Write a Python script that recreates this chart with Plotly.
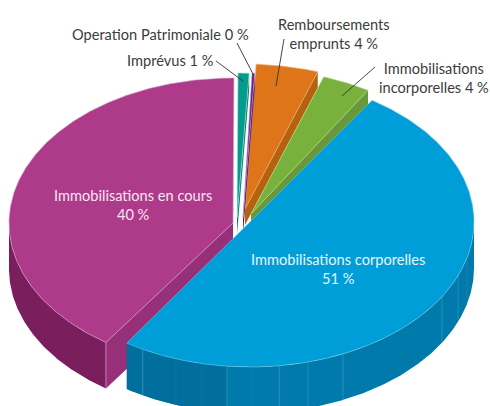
import math
import plotly.graph_objects as go

names = ["Immobilisations corporelles", "Immobilisations en cours", "Imprévus",
         "Operation Patrimoniale", "Remboursements emprunts", "Immobilisations incorporelles"]
values = [50.1, 40.8, 0.8, 0.2, 4.2, 3.9]
shown = [51, 40, 1, 0, 4, 4]
top_colors = ["#009ED8", "#AE3A8A", "#009C8C", "#6A1E85", "#DE7619", "#78B13B"]
edge_colors = ["#66C4E8", "#D9A0C8", "#B5E0DA", "#B89AC8", "#F0B580", "#B5D68F"]
radial_colors = ["#0078A8", "#963078", "#00786C", "#4E1566", "#B5620F", "#67993A"]
outer_colors = ["#0079AB", "#7B1E5E", "#00786C", "#4E1566", "#B5620F", "#67993A"]
centers = [(250, 222), (233, 223), (237, 218), (243, 218), (245, 209), (251, 214)]
start_gap = [0, 1.2, 0, -0.8, -1.0, 0]
end_gap = [0, 0, 0, 0.85, 0, 1.5]
draw_order = [4, 2, 3, 5, 1, 0]
seam_angles = [-118.6, -109.3, -102.4, -95.9, -89.2, -82.5, -75, -65.5, -31, -21.7, -14.3]
seam_strength = [0.5, 0.1, 0.1, 0.4, 0.1, 0.4, 0.35, 0.4, 0.4, 0.35, 0.2]

START = 57.0
A, B = 224, 145
DEPTH_NEAR, DEPTH_FAR = 46, 16

fig = go.Figure()


def point(c, t):
    r = math.radians(t)
    return c[0] + A * math.cos(r), c[1] - B * math.sin(r)


def arc(c, t0, t1, n=None):
    n = n or max(3, int(abs(t1 - t0) * 2))
    return [point(c, t0 + (t1 - t0) * i / n) for i in range(n + 1)]


def poly(pts, fill, line=None, w=0.0):
    fig.add_trace(go.Scatter(x=[p[0] for p in pts] + [pts[0][0]], y=[p[1] for p in pts] + [pts[0][1]],
                             mode="lines", fill="toself", fillcolor=fill,
                             line=dict(color=line or fill, width=w), hoverinfo="skip", showlegend=False))


def seg(p, q, color, w=0.8, op=1.0):
    fig.add_trace(go.Scatter(x=[p[0], q[0]], y=[p[1], q[1]], mode="lines", opacity=op,
                             line=dict(color=color, width=w), hoverinfo="skip", showlegend=False))


starts, ends = [], []
a = START
for v, sg, eg in zip(values, start_gap, end_gap):
    b = a - v * 3.6
    starts.append(a - sg)
    ends.append(b + eg)
    a = b

for i in draw_order:
    c, t0, t1 = centers[i], starts[i], ends[i]
    # radial walls facing the viewer
    if 0 < (t1 % 360) < 180:
        p = point(c, t1)
        poly([c, p, (p[0], p[1] + DEPTH_FAR), (c[0], c[1] + DEPTH_FAR)], radial_colors[i])
    if 180 < (t0 % 360) < 360:
        p = point(c, t0)
        poly([c, p, (p[0], p[1] + DEPTH_NEAR), (c[0], c[1] + DEPTH_NEAR)], radial_colors[i])
    # outer wall, near half only
    lo, hi = min(t0, t1), max(t0, t1)
    if i == 1:
        top = arc(c, -180.0, hi)
        poly(top + [(x, y + DEPTH_NEAR) for x, y in reversed(top)], outer_colors[i])
        p = point(c, hi)
        seg(p, (p[0], p[1] + DEPTH_NEAR), edge_colors[i], 0.7)
    elif i == 0:
        top = arc(c, lo, 0.0)
        poly(top + [(x, y + DEPTH_NEAR) for x, y in reversed(top)], outer_colors[i])
        top = arc(c, lo, -95.9)
        poly(top + [(x, y + DEPTH_NEAR) for x, y in reversed(top)], "#006F9E")
        for s, o in zip(seam_angles, seam_strength):
            p = point(c, s)
            seg(p, (p[0], p[1] + DEPTH_NEAR), "#7FC4DE", 0.8, o)
    # top face
    poly([c] + arc(c, t0, t1), top_colors[i], edge_colors[i], 0.6)

# labels with leader lines
INK = "#3C3C3C"
leaders = [((216, 61), (243, 81)), ((237, 43), (253, 74)), ((284, 39), (276, 86)), ((375, 67), (342, 96))]
for p, q in leaders:
    seg(p, q, "#333333", 0.9)

labels = [
    (f"{names[1]}<br>{shown[1]} %", 133, 205, "#F7E6F1"),
    (f"{names[0]}<br>{shown[0]} %", 338, 269, "#E6F5FB"),
    (f"{names[2]} {shown[2]} %", 170, 60, INK),
    (f"{names[3]} {shown[3]} %", 160, 34, INK),
    (f"Remboursements<br>emprunts {shown[4]} %", 334, 34, INK),
    (f"Immobilisations<br>incorporelles {shown[5]} %", 434, 78, INK),
]
for text, x, y, col in labels:
    fig.add_annotation(x=x, y=y, text=text, showarrow=False, xanchor="center", yanchor="middle",
                       font=dict(family="Lato", size=14.6, color=col), align="center")

fig.update_layout(width=490, height=406, margin=dict(l=0, r=0, t=0, b=0),
                  paper_bgcolor="white", plot_bgcolor="white", showlegend=False,
                  xaxis=dict(range=[0, 490], visible=False, fixedrange=True),
                  yaxis=dict(range=[406, 0], visible=False, fixedrange=True))
fig.write_html("out.html", config={"displayModeBar": False},
               post_script="document.body.style.margin='0';document.body.style.overflow='hidden';")
